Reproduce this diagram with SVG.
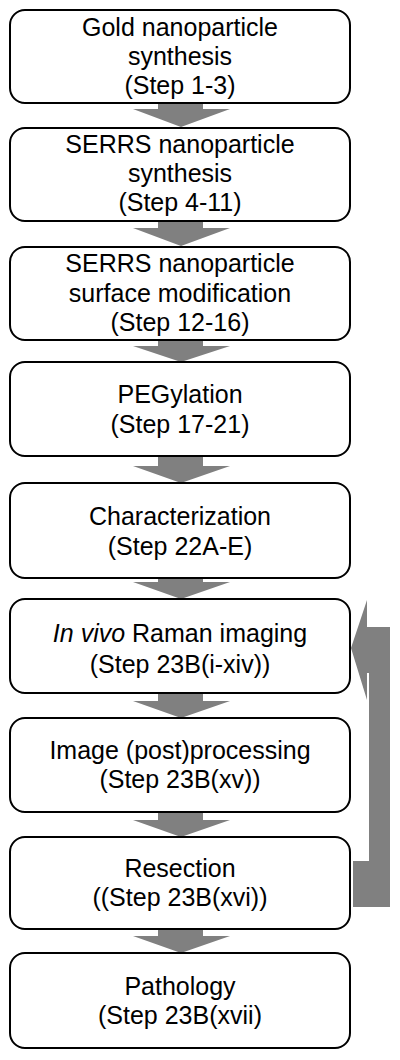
<svg xmlns="http://www.w3.org/2000/svg" width="400" height="1060" viewBox="0 0 400 1060">
<style>
.box{fill:#fff;stroke:#000;stroke-width:2}
.arr{fill:#808080;stroke:none}
text{font-family:"Liberation Sans",Arial,sans-serif;font-size:25px;fill:#000;text-anchor:middle}
</style>
<rect width="400" height="1060" fill="#fff"/>
<g id="connectors">
<polygon class="arr" points="158,103 203,103 203,109 230,109 181,127 133,109 158,109"/>
<polygon class="arr" points="158,221 203,221 203,228 230,228 181,246 133,228 158,228"/>
<polygon class="arr" points="158,340 203,340 203,346 230,346 181,362 133,346 158,346"/>
<polygon class="arr" points="158,456 203,456 203,466 230,466 181,483 133,466 158,466"/>
<polygon class="arr" points="158,578 203,578 203,582 230,582 181,599 133,582 158,582"/>
<polygon class="arr" points="158,693 203,693 203,701 230,701 181,718 133,701 158,701"/>
<polygon class="arr" points="158,812 203,812 203,820 230,820 181,837 133,820 158,820"/>
<polygon class="arr" points="158,929 203,929 203,936 230,936 181,953 133,936 158,936"/>
<polygon id="feedback" class="arr" points="351,648 367,600 367,627 390,627 390,907 353,907 353,861 369,861 369,673 367,673 367,700"/>
</g>
<g id="n1"><rect class="box" x="10" y="10" width="340" height="93" rx="15"/>
<text x="180" y="36">Gold nanoparticle</text><text x="180" y="65">synthesis</text><text x="180" y="94">(Step 1-3)</text></g>
<g id="n2"><rect class="box" x="10" y="128" width="340" height="93" rx="15"/>
<text x="180" y="153">SERRS nanoparticle</text><text x="180" y="182">synthesis</text><text x="180" y="211">(Step 4-11)</text></g>
<g id="n3"><rect class="box" x="10" y="247" width="340" height="93" rx="15"/>
<text x="180" y="272">SERRS nanoparticle</text><text x="180" y="302">surface modification</text><text x="180" y="331">(Step 12-16)</text></g>
<g id="n4"><rect class="box" x="10" y="362" width="340" height="94" rx="15"/>
<text x="180" y="403">PEGylation</text><text x="180" y="433">(Step 17-21)</text></g>
<g id="n5"><rect class="box" x="10" y="483" width="340" height="95" rx="15"/>
<text x="180" y="525">Characterization</text><text x="180" y="555">(Step 22A-E)</text></g>
<g id="n6"><rect class="box" x="10" y="599" width="340" height="94" rx="15"/>
<text x="180" y="642"><tspan font-style="italic">In vivo</tspan> Raman imaging</text><text x="180" y="673">(Step 23B(i-xiv))</text></g>
<g id="n7"><rect class="box" x="10" y="718" width="340" height="94" rx="15"/>
<text x="180" y="759">Image (post)processing</text><text x="180" y="788">(Step 23B(xv))</text></g>
<g id="n8"><rect class="box" x="10" y="837" width="340" height="92" rx="15"/>
<text x="180" y="877">Resection</text><text x="180" y="906">((Step 23B(xvi))</text></g>
<g id="n9"><rect class="box" x="10" y="953" width="340" height="95" rx="15"/>
<text x="180" y="995">Pathology</text><text x="180" y="1024">(Step 23B(xvii)</text></g>
</svg>
